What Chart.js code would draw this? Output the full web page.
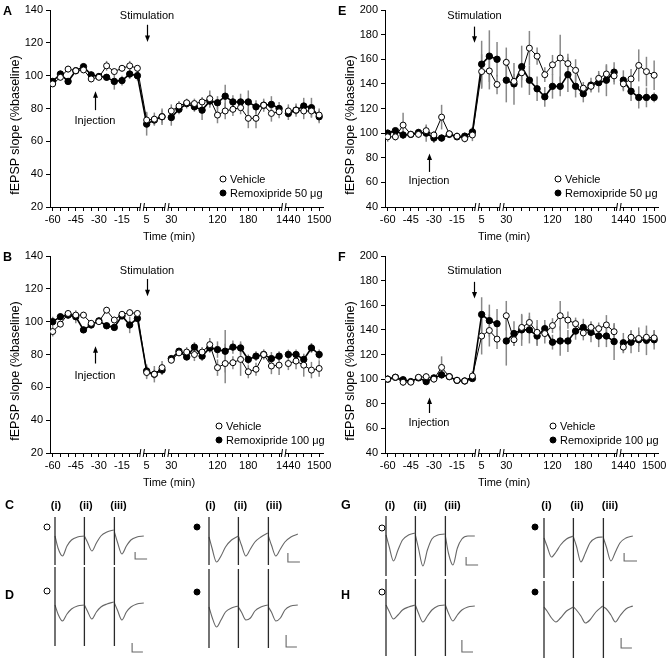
<!DOCTYPE html>
<html>
<head>
<meta charset="utf-8">
<script src="https://cdn.jsdelivr.net/npm/chart.js@4.4.0/dist/chart.umd.min.js"></script>
<style>
  html, body { margin: 0; padding: 0; background: #fff; }
  #page { position: relative; width: 669px; height: 660px; overflow: hidden; font-family: 'Liberation Sans', Arial, sans-serif; color: #000; }
  #page canvas { position: absolute; }
  .txt { position: absolute; white-space: nowrap; font-size: 11px; line-height: 1; }
  .letter { font-weight: bold; font-size: 12.5px; }
  .sweep { font-weight: bold; font-size: 11px; }
  .ytitle { font-size: 12.5px; }
  .dot { position: absolute; width: 5px; height: 5px; border: 1px solid #000; border-radius: 50%; transform: translate(-50%, -50%); background: #fff; }
  .dot.filled { background: #000; }
</style>
</head>
<body>
<div id="page"></div>
<script>
// time points (min), split where the x axis is broken
const timeSegments = [
  [-60, -55, -50, -45, -40, -35, -30, -25, -20, -15, -10, -5],
  [5, 10, 15],
  [30, 45, 60, 75, 90, 105, 120, 135, 150, 165, 180, 195, 210, 225, 240],
  [1440, 1455, 1470, 1485, 1500]
];
const labeledTimes = [-60, -45, -30, -15, 5, 30, 120, 180, 1440, 1500];

// A: vehicle vs remoxipride 50 ug (fEPSP slope, % baseline)
const vehicleA = [95, 99, 104, 103, 103.5, 98, 99, 106, 102.5, 104.5, 106, 104.5,
  73, 73.5, 75,
  78.5, 81.5, 83.5, 83, 84, 86, 76, 78.5, 79.5, 80.5, 74, 74, 82, 77, 78,
  78.5, 79, 78.5, 78.5, 76];
const vehicleErrA = [2, 2, 2, 2, 2, 2, 2, 3, 2, 2, 3, 2,
  5, 4, 4,
  4, 3, 2, 3, 3, 5, 5, 5, 4, 4, 6, 6, 4, 5, 4,
  4, 3, 5, 4, 4];
const remoxA = [96.5, 101, 96.5, 103, 105.5, 100.5, 99.5, 99, 96.5, 97, 101, 100,
  70.5, 73, 75,
  74.5, 79.5, 83, 81, 79, 84.5, 83.5, 87.5, 84, 84, 84, 81, 82, 82.5, 80,
  77, 79, 81.5, 80.5, 75];
const remoxErrA = [2, 2, 2, 2, 2, 2, 2, 2, 5, 3, 3, 3,
  7, 3, 5,
  5, 3, 3, 3, 6, 4, 4, 7, 4, 5, 7, 4, 3, 5, 4,
  4, 4, 5, 6, 4];

// B: vehicle vs remoxipride 100 ug
const vehicleB = [94, 98.5, 105, 104, 104, 99, 100, 107, 101, 104.5, 105.5, 105,
  69, 68, 72,
  76.5, 81, 81.5, 80, 81.5, 86, 72, 74.5, 75, 77, 69.5, 71, 80, 73, 73.5,
  74.5, 76, 73.5, 70.5, 71.5];
const vehicleErrB = [3, 2, 2, 2, 2, 2, 2, 2, 2, 2, 2, 2,
  4, 5, 4,
  2, 2, 3, 4, 3, 4, 5, 12, 4, 10, 4, 4, 3, 5, 6,
  4, 5, 7, 5, 5];
const remoxB = [100, 103, 104, 103, 95, 98, 100.5, 97.5, 96.5, 103.5, 98, 102,
  70, 68, 70.5,
  77.5, 82, 78.5, 84.5, 79, 84, 83, 82, 84.5, 84, 77, 79, 80, 77.5, 79,
  80, 80, 77, 84, 80];
const remoxErrB = [3, 2, 2, 4, 2, 2, 2, 2, 2, 2, 5, 2,
  4, 3, 3,
  2, 2, 2, 3, 3, 3, 5, 13, 4, 4, 3, 3, 3, 4, 3,
  3, 3, 3, 3, 3];

// E: vehicle vs remoxipride 50 ug
const vehicleE = [97, 97, 106.5, 99, 99, 102, 98.5, 113, 99.5, 97.5, 95.5, 98.5,
  150, 150.5, 139.5,
  157.5, 142, 149, 169, 162.5, 147.5, 155.5, 161, 156.5, 151, 136.5, 138, 144.5, 148, 146.5,
  140, 144, 155, 150, 147];
const vehicleErrE = [4, 3, 10, 2, 3, 4, 3, 10, 3, 3, 3, 5,
  14, 15, 8,
  12, 6, 6, 14, 7, 6, 8, 19, 8, 9, 5, 4, 6, 7, 7,
  6, 8, 13, 12, 12];
const remoxE = [100, 102, 98.5, 99, 100.5, 100, 96, 96, 99, 97, 97.5, 101,
  156, 162.5, 160,
  143, 140, 154, 143, 136, 129.5, 138, 138, 147.5, 138, 132, 139, 141, 143, 149.5,
  143, 134, 129, 129, 129];
const remoxErrE = [3, 2, 3, 2, 3, 7, 4, 3, 3, 2, 3, 4,
  19, 21, 14,
  18, 17, 17, 12, 10, 8, 10, 8, 14, 9, 7, 6, 8, 13, 8,
  8, 8, 9, 8, 4];

// F: vehicle vs remoxipride 100 ug
const vehicleF = [100, 101.5, 97.5, 97.5, 101.5, 102, 100, 109.5, 102, 99, 98.5, 102.5,
  135, 139.5, 132.5,
  151.5, 132, 142, 146, 138, 137, 143.5, 151.5, 148, 145, 137.5, 142, 141, 144, 138.5,
  126, 134, 133, 134, 133.5];
const vehicleErrF = [3, 2, 3, 2, 2, 3, 3, 9, 2, 2, 2, 4,
  15, 13, 8,
  12, 5, 10, 8, 10, 8, 6, 12, 7, 5, 6, 5, 5, 8, 6,
  5, 6, 6, 6, 6];
const remoxF = [100, 101.5, 99.5, 98, 101, 98, 101, 103.5, 102, 99, 98.5, 100.5,
  152.5, 147.5, 145,
  131, 137, 140, 140, 135, 141, 130, 131, 131, 139, 142, 138, 135, 135, 130.5,
  129.5, 130, 132, 131.5, 132];
const remoxErrF = [2, 2, 2, 2, 2, 2, 2, 3, 2, 2, 2, 2,
  14, 13, 12,
  20, 10, 13, 11, 8, 7, 6, 12, 9, 7, 7, 8, 9, 9, 15,
  8, 9, 10, 12, 8];

// example sweeps: times (ms) inside one sweep and sweep onsets
const sweepTimes = [0, 1, 2.5, 4, 5.5, 7.5, 9.8];
const sweepOnsets = [0, 9.8, 19.8];
// traces (mV from baseline) for sweeps (i), (ii), (iii)
const tracesCveh = [[0, -0.6, -1.0, -0.5, -0.2, -0.05, 0], [0, -0.3, -0.75, -0.35, 0, 0.2, 0.3], [0.2, -0.3, -0.9, -0.5, -0.2, -0.05, 0]];
const tracesCrem = [[-0.05, -0.6, -1.3, -1.0, -0.55, -0.2, 0], [0, -0.45, -1.0, -0.65, -0.3, -0.05, 0.15], [0, -0.45, -1.0, -0.65, -0.3, -0.05, 0.1]];
const tracesDveh = [[0, -0.45, -0.8, -0.45, -0.2, -0.05, 0], [0, -0.3, -0.7, -0.35, -0.1, 0.05, 0.15], [0.1, -0.25, -0.75, -0.35, -0.1, 0.05, 0.1]];
const tracesDrem = [[0, -0.5, -1.0, -0.65, -0.25, -0.05, 0.05], [0, -0.25, -0.65, -0.55, -0.2, 0, 0.1], [0, -0.25, -0.7, -0.55, -0.15, 0.05, 0.1]];
const tracesGveh = [[0, -0.55, -1.3, -0.75, -0.25, 0, 0.1], [0, -0.65, -1.55, -0.75, -0.2, 0, 0.05], [-0.05, -0.9, -1.5, -0.65, -0.2, -0.05, -0.05]];
const tracesGrem = [[-0.05, -0.45, -1.0, -0.75, -0.4, -0.1, 0.05], [0, -0.45, -1.25, -0.8, -0.3, -0.05, 0], [-0.05, -0.5, -1.2, -0.75, -0.3, -0.05, 0.05]];
const tracesHveh = [[0, -0.3, -0.7, -0.5, -0.25, -0.1, 0], [0, -0.4, -0.85, -0.55, -0.25, -0.05, 0], [0, -0.4, -0.8, -0.5, -0.25, -0.1, -0.05]];
const tracesHrem = [[0, -0.2, -0.55, -0.75, -0.55, -0.2, 0], [0, -0.15, -0.45, -0.8, -0.65, -0.25, 0.05], [0, -0.1, -0.4, -0.75, -0.45, -0.1, 0.05]];
// stimulus artifact extent [top, bottom] mV
const artifactC = [0.95, -1.45], artifactD = [1.9, -2.05], artifactG = [0.95, -2.05], artifactH = [1.3, -2.55];
// scale bars: [x ms, top mV, bottom mV, end x ms]
const scaleBars = {
  Cveh: [26.7, -0.8, -1.15, 30.7], Crem: [26.3, -0.85, -1.3, 30.3],
  Dveh: [25.7, -1.9, -2.35, 29.3], Drem: [25.7, -1.4, -2.0, 29.3],
  Gveh: [26.7, -1.1, -1.5, 30.7], Grem: [26.7, -0.8, -1.2, 31],
  Hveh: [25.3, -1.75, -2.35, 29], Hrem: [25.7, -1.55, -2.05, 29.3]
};

Chart.defaults.font.family = "'Liberation Sans', Arial, sans-serif";
Chart.defaults.font.size = 11;
Chart.defaults.color = '#000';

const page = document.getElementById('page');

// x positions: one step per time point, a little extra room at each break
const SEG_GAP = 0.2;
const times = [], positions = [], breakPositions = [], hiddenLinks = [];
let n = 0;
timeSegments.forEach((seg, s) => {
  if (s > 0) {
    breakPositions.push(n - 0.5 + (s - 0.5) * SEG_GAP);
    if (s > 1) hiddenLinks.push(n - 1);
  }
  seg.forEach(t => { times.push(t); positions.push(n + s * SEG_GAP); n++; });
});
const tickText = times.map(t => labeledTimes.includes(t) ? String(t) : '');

const errorBars = {
  id: 'errorBars',
  beforeDatasetsDraw(chart) {
    const ctx = chart.ctx, y = chart.scales.y;
    chart.data.datasets.forEach((ds, i) => {
      if (!ds.errors) return;
      const meta = chart.getDatasetMeta(i);
      ctx.save();
      ctx.strokeStyle = '#888';
      ctx.lineWidth = 1.5;
      meta.data.forEach((pt, j) => {
        const v = ds.data[j].y, e = ds.errors[j];
        ctx.beginPath();
        ctx.moveTo(pt.x, y.getPixelForValue(v + e));
        ctx.lineTo(pt.x, y.getPixelForValue(v - e));
        ctx.stroke();
      });
      ctx.restore();
    });
  }
};

const axisBreaks = {
  id: 'axisBreaks',
  afterDraw(chart) {
    const ctx = chart.ctx, x = chart.scales.x, yb = chart.chartArea.bottom;
    breakPositions.forEach(b => {
      const px = x.getPixelForValue(b);
      ctx.save();
      ctx.fillStyle = '#fff';
      ctx.fillRect(px - 1.5, yb - 1.5, 3, 3);
      ctx.strokeStyle = '#000';
      ctx.lineWidth = 1;
      [-1.8, 1.8].forEach(d => {
        ctx.beginPath();
        ctx.moveTo(px + d - 0.6, yb + 4);
        ctx.lineTo(px + d + 0.6, yb - 4);
        ctx.stroke();
      });
      ctx.restore();
    });
  }
};

const arrows = {
  id: 'arrows',
  afterDraw(chart, args, opts) {
    const ctx = chart.ctx, x = chart.scales.x, y = chart.scales.y;
    (opts.items || []).forEach(a => {
      const px = Math.round(x.getPixelForValue(a.x)) + 0.5;
      const y0 = y.getPixelForValue(a.from), y1 = y.getPixelForValue(a.to);
      const dir = Math.sign(y1 - y0);
      ctx.save();
      ctx.strokeStyle = '#000';
      ctx.fillStyle = '#000';
      ctx.lineWidth = 1.2;
      ctx.beginPath();
      ctx.moveTo(px, y0);
      ctx.lineTo(px, y1 - dir * 4);
      ctx.stroke();
      ctx.beginPath();
      ctx.moveTo(px, y1);
      ctx.lineTo(px - 2.5, y1 - dir * 6.5);
      ctx.lineTo(px + 2.5, y1 - dir * 6.5);
      ctx.closePath();
      ctx.fill();
      ctx.restore();
    });
  }
};

function addCanvas(left, top, w, h) {
  const c = document.createElement('canvas');
  c.width = w; c.height = h;
  c.style.left = left + 'px'; c.style.top = top + 'px';
  c.style.width = w + 'px'; c.style.height = h + 'px';
  page.appendChild(c);
  return c;
}

function addText(text, x, y, cls, align) {
  const d = document.createElement('div');
  d.className = 'txt' + (cls ? ' ' + cls : '');
  d.textContent = text;
  d.style.left = x + 'px';
  d.style.top = y + 'px';
  d.style.transform = align === 'left' ? 'translate(0,-50%)' : 'translate(-50%,-50%)';
  page.appendChild(d);
  return d;
}

function addDot(x, y, filled) {
  const d = document.createElement('div');
  d.className = 'dot' + (filled ? ' filled' : '');
  d.style.left = x + 'px';
  d.style.top = y + 'px';
  page.appendChild(d);
}

const linkColor = ctx => hiddenLinks.includes(ctx.p0DataIndex) ? 'rgba(0,0,0,0)' : undefined;
const toPoints = vals => vals.map((v, i) => ({ x: positions[i], y: v }));

function makePanel(p) {
  const canvas = addCanvas(p.left, p.top, 334, 245);
  new Chart(canvas, {
    type: 'line',
    data: {
      datasets: [
        {
          label: 'Vehicle', data: toPoints(p.vehicle), errors: p.vehicleErr,
          borderColor: '#000', borderWidth: 1, pointRadius: 3, pointBorderWidth: 1,
          pointBackgroundColor: '#fff', pointBorderColor: '#000', order: 0,
          segment: { borderColor: linkColor }
        },
        {
          label: p.drug, data: toPoints(p.remox), errors: p.remoxErr,
          borderColor: '#000', borderWidth: 1.6, pointRadius: 3.2, pointBorderWidth: 1,
          pointBackgroundColor: '#000', pointBorderColor: '#000', order: 1,
          segment: { borderColor: linkColor }
        }
      ]
    },
    options: {
      responsive: false,
      animation: false,
      events: [],
      layout: { padding: { left: 0, top: 10, right: 11, bottom: 0 } },
      plugins: {
        legend: { display: false },
        tooltip: { enabled: false },
        arrows: { items: p.arrows }
      },
      scales: {
        x: {
          type: 'linear', min: -0.35, max: 35.1,
          afterFit: s => { s.height = 38; },
          afterBuildTicks: s => { s.ticks = positions.map(v => ({ value: v })); },
          ticks: { autoSkip: false, maxRotation: 0, padding: 2, callback: (v, i) => tickText[i] },
          grid: { drawOnChartArea: false, tickLength: 4, color: '#000' },
          border: { color: '#000', width: 1 }
        },
        y: {
          min: p.yMin, max: p.yMax,
          afterFit: s => { s.width = 50; },
          ticks: { stepSize: 20, padding: 3 },
          grid: { drawOnChartArea: false, tickLength: 4, color: '#000' },
          border: { color: '#000', width: 1 }
        }
      }
    },
    plugins: [errorBars, axisBreaks, arrows]
  });

  const L = p.left, T = p.top;
  addText(p.letter, L + 3, T + 10.5, 'letter', 'left');
  addText('fEPSP slope (%baseline)', L + 15, T + 125, 'ytitle').style.transform = 'translate(-50%,-50%) rotate(-90deg)';
  addText('Time (min)', L + 169, T + 236);
  addText('Stimulation', L + p.stimText, T + p.stimTextY);
  addText('Injection', L + p.injText, T + p.injTextY);
  addDot(L + p.legendX, T + p.legendY, false);
  addText('Vehicle', L + p.legendX + 7.5, T + p.legendY, '', 'left');
  addDot(L + p.legendX, T + p.legendY + 14, true);
  addText(p.drug, L + p.legendX + 7.5, T + p.legendY + 14, '', 'left');
}

makePanel({
  letter: 'A', left: 0, top: 0, yMin: 20, yMax: 140, drug: 'Remoxipride 50 μg',
  vehicle: vehicleA, vehicleErr: vehicleErrA, remox: remoxA, remoxErr: remoxErrA,
  arrows: [{ x: 12.2, from: 131, to: 120.5 }, { x: 5.55, from: 79, to: 90.5 }],
  stimText: 147, stimTextY: 15, injText: 95, injTextY: 120, legendX: 222.5, legendY: 179
});
makePanel({
  letter: 'B', left: 0, top: 246, yMin: 20, yMax: 140, drug: 'Remoxipride 100 μg',
  vehicle: vehicleB, vehicleErr: vehicleErrB, remox: remoxB, remoxErr: remoxErrB,
  arrows: [{ x: 12.2, from: 126, to: 115.5 }, { x: 5.55, from: 74.5, to: 85 }],
  stimText: 147, stimTextY: 24, injText: 95, injTextY: 129, legendX: 218.5, legendY: 180
});
makePanel({
  letter: 'E', left: 335, top: 0, yMin: 40, yMax: 200, drug: 'Remoxipride 50 μg',
  vehicle: vehicleE, vehicleErr: vehicleErrE, remox: remoxE, remoxErr: remoxErrE,
  arrows: [{ x: 11.25, from: 186.5, to: 173.5 }, { x: 5.3, from: 68.5, to: 83.5 }],
  stimText: 139.5, stimTextY: 15, injText: 94, injTextY: 180, legendX: 222.5, legendY: 179
});
makePanel({
  letter: 'F', left: 335, top: 246, yMin: 40, yMax: 200, drug: 'Remoxipride 100 μg',
  vehicle: vehicleF, vehicleErr: vehicleErrF, remox: remoxF, remoxErr: remoxErrF,
  arrows: [{ x: 11.25, from: 179, to: 165.5 }, { x: 5.3, from: 72.5, to: 85 }],
  stimText: 139.5, stimTextY: 24, injText: 94, injTextY: 176, legendX: 217.5, legendY: 180
});

// example sweeps, one small chart per block
function makeTraces(b) {
  const up = b.tall ? 40 : 25, h = b.tall ? 95 : 72;
  const canvas = addCanvas(b.left - 3, b.base - up, 102, h);
  const datasets = [];
  b.traces.forEach((vals, k) => {
    datasets.push({
      data: [{ x: sweepOnsets[k], y: b.artifact[0] }, { x: sweepOnsets[k], y: b.artifact[1] }],
      borderColor: '#2a2a2a', borderWidth: 1.3
    });
    datasets.push({
      data: vals.map((v, i) => ({ x: sweepOnsets[k] + sweepTimes[i], y: v })),
      borderColor: '#666', borderWidth: 1.1, cubicInterpolationMode: 'monotone'
    });
  });
  const s = b.bar;
  datasets.push({
    data: [{ x: s[0], y: s[1] }, { x: s[0], y: s[2] }, { x: s[3], y: s[2] }],
    borderColor: '#666', borderWidth: 1.1
  });
  new Chart(canvas, {
    type: 'scatter',
    data: { datasets: datasets.map(d => Object.assign({ showLine: true, pointRadius: 0 }, d)) },
    options: {
      responsive: false, animation: false, events: [],
      layout: { padding: 0 },
      plugins: { legend: { display: false }, tooltip: { enabled: false } },
      scales: {
        x: { display: false, min: -1, max: 33 },
        y: { display: false, min: -(h - up) / 20, max: up / 20 }
      }
    }
  });
}

const blocks = [
  { traces: tracesCveh, artifact: artifactC, bar: scaleBars.Cveh, left: 55, base: 536, tall: false },
  { traces: tracesCrem, artifact: artifactC, bar: scaleBars.Crem, left: 209, base: 536, tall: false },
  { traces: tracesDveh, artifact: artifactD, bar: scaleBars.Dveh, left: 55, base: 605, tall: true },
  { traces: tracesDrem, artifact: artifactD, bar: scaleBars.Drem, left: 209, base: 607, tall: true },
  { traces: tracesGveh, artifact: artifactG, bar: scaleBars.Gveh, left: 386, base: 535, tall: false },
  { traces: tracesGrem, artifact: artifactG, bar: scaleBars.Grem, left: 544, base: 537, tall: false },
  { traces: tracesHveh, artifact: artifactH, bar: scaleBars.Hveh, left: 386, base: 605, tall: true },
  { traces: tracesHrem, artifact: artifactH, bar: scaleBars.Hrem, left: 544, base: 607, tall: true }
];
blocks.forEach(makeTraces);

// labels for the sweep rows
[['C', 5, 505], ['D', 5, 595], ['G', 341, 505], ['H', 341, 595]].forEach(r => addText(r[0], r[1], r[2], 'letter', 'left'));
[[56, 86, 118.5], [210.5, 240.5, 274], [390, 420, 452.5], [546.5, 577, 610]].forEach(xs => {
  ['(i)', '(ii)', '(iii)'].forEach((t, k) => addText(t, xs[k], 505, 'sweep'));
});
[[47, 527, false], [197, 527, true], [47, 591, false], [197, 592, true],
 [382, 528, false], [535, 527, true], [382, 592, false], [535, 592, true]].forEach(d => addDot(d[0], d[1], d[2]));
</script>
</body>
</html>
